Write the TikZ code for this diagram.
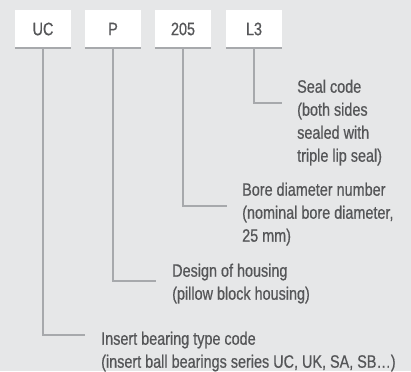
\documentclass[tikz,border=0pt]{standalone}
\usepackage{fontspec}
\setmainfont{Liberation Sans}[FakeStretch=0.8,FakeBold=0.6]
\definecolor{bggray}{HTML}{E6E7E8}
\definecolor{txtgray}{HTML}{555658}
\definecolor{linegray}{HTML}{A7A9AC}
\tikzset{
  codebox/.style={fill=white,minimum width=56pt,minimum height=38pt,inner sep=0pt},
  lead/.style={line width=2pt,linegray},
  desc/.style={anchor=north west,align=left,inner sep=0pt}
}
\begin{document}
\begin{tikzpicture}[x=1pt,y=-1pt,every node/.style={font=\fontsize{18}{23}\selectfont,text=txtgray}]
\fill[bggray] (0,0) rectangle (411,371);
\useasboundingbox (0,0) rectangle (411,371);
% code boxes
\foreach \n/\t/\x in {uc/UC/43,p/P/113,bore/205/183,seal/L3/254} {
  \node[codebox] (\n) at (\x,29) {\t};
  \draw[line width=2.3pt,linegray] (\n.south west) -- (\n.south east);
}
% descriptions
\node[desc] (sealtxt) at (297,79.5) {Seal code\\(both sides\\sealed with\\triple lip seal)};
\node[desc] (boretxt) at (242,182.5) {Bore diameter number\\(nominal bore diameter,\\25 mm)};
\node[desc] (ptxt) at (172,263.5) {Design of housing\\(pillow block housing)};
\node[desc] (uctxt) at (101,331.5) {Insert bearing type code\\(insert ball bearings series UC, UK, SA, SB…)};
% leaders
\coordinate (sealend) at (282,103);
\coordinate (boreend) at (227,206);
\coordinate (pend) at (156,281);
\coordinate (ucend) at (85,335);
\draw[lead] (seal.south) |- (sealend);
\draw[lead] (bore.south) |- (boreend);
\draw[lead] (p.south) |- (pend);
\draw[lead] (uc.south) |- (ucend);
\end{tikzpicture}
\end{document}
